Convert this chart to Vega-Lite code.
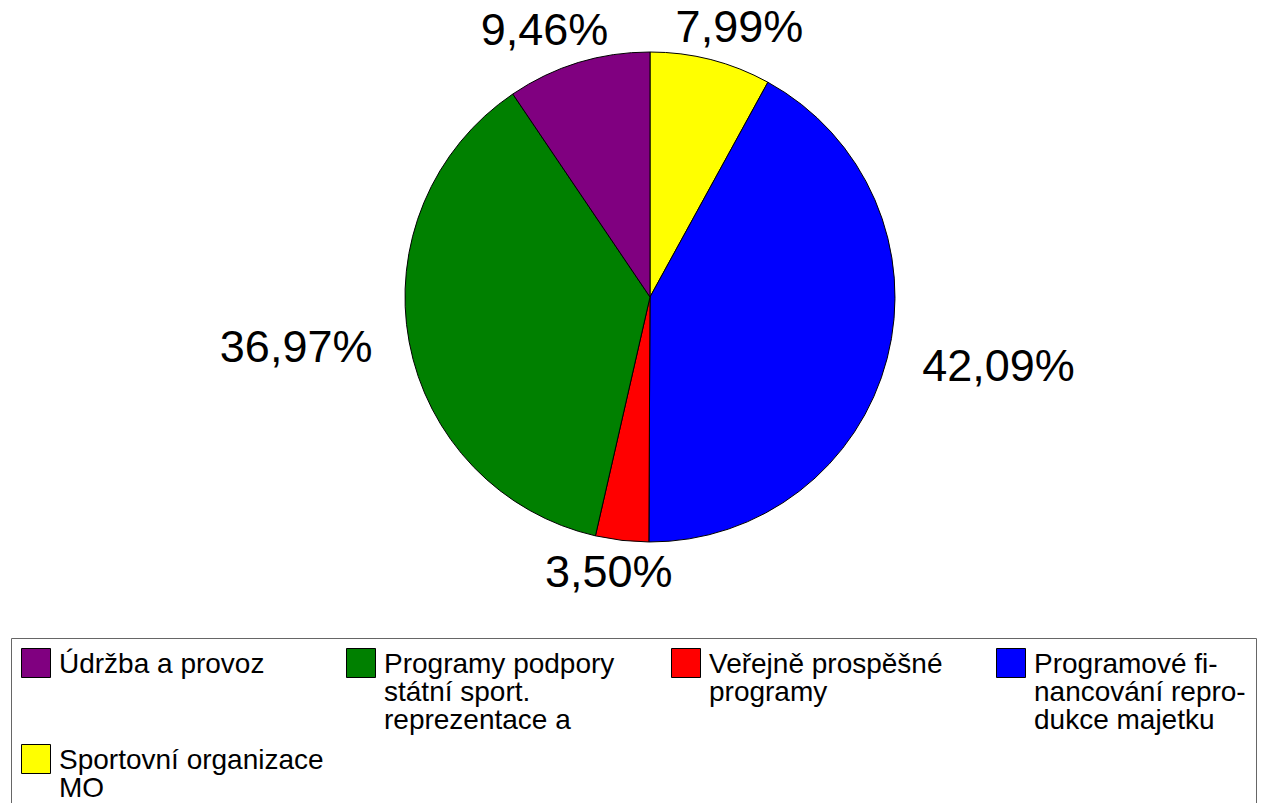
{
  "$schema": "https://vega.github.io/schema/vega-lite/v6.json",
  "width": 1234,
  "height": 594,
  "autosize": {"type": "none"},
  "padding": {"left": 33, "top": 0, "right": 0, "bottom": 209},
  "background": "white",
  "config": {
    "view": {"stroke": null},
    "font": "Liberation Sans",
    "locale": {
      "number": {"decimal": ",", "thousands": "\u00a0", "grouping": [3], "currency": ["", "\u00a0Kč"]}
    }
  },
  "data": {
    "values": [
      {"kategorie": "Sportovní organizace|MO", "podil": 0.0799, "poradi": 1},
      {"kategorie": "Programové fi-|nancování repro-|dukce majetku", "podil": 0.4209, "poradi": 2},
      {"kategorie": "Veřejně prospěšné|programy", "podil": 0.0350, "poradi": 3},
      {"kategorie": "Programy podpory|státní sport.|reprezentace a", "podil": 0.3697, "poradi": 4},
      {"kategorie": "Údržba a provoz", "podil": 0.0946, "poradi": 5}
    ]
  },
  "encoding": {
    "theta": {"field": "podil", "type": "quantitative", "stack": true},
    "order": {"field": "poradi", "type": "quantitative"}
  },
  "layer": [
    {
      "mark": {"type": "arc", "radius": 245, "stroke": "black", "strokeWidth": 1, "opacity": 1},
      "encoding": {
        "color": {
          "field": "kategorie",
          "type": "nominal",
          "scale": {
            "domain": [
              "Údržba a provoz",
              "Programy podpory|státní sport.|reprezentace a",
              "Veřejně prospěšné|programy",
              "Programové fi-|nancování repro-|dukce majetku",
              "Sportovní organizace|MO"
            ],
            "range": ["#800080", "#008000", "#FF0000", "#0000FF", "#FFFF00"]
          },
          "legend": {
            "title": null,
            "orient": "none",
            "direction": "horizontal",
            "legendX": -22,
            "legendY": 638,
            "columns": 4,
            "gridAlign": "all",
            "symbolType": "square",
            "symbolSize": 841,
            "symbolStrokeColor": "black",
            "symbolStrokeWidth": 1,
            "symbolOpacity": 1,
            "labelFont": "Liberation Sans",
            "labelFontSize": 28,
            "labelColor": "black",
            "labelLimit": 500,
            "labelOffset": 8,
            "labelBaseline": "top",
            "labelExpr": "slice(split(datum.label + '||', '|'), 0, 3)",
            "columnPadding": 20,
            "rowPadding": 7,
            "strokeColor": "#666666",
            "fillColor": "white",
            "padding": 10,
            "encode": {"labels": {"update": {"lineHeight": {"value": 28}, "dy": {"value": -12}}}}
          }
        }
      }
    },
    {
      "mark": {
        "type": "text",
        "radius": 0,
        "dx": {"expr": "360*sin(scale('theta', 0.5*datum.podil_start + 0.5*datum.podil_end))"},
        "dy": {"expr": "-278*cos(scale('theta', 0.5*datum.podil_start + 0.5*datum.podil_end))"},
        "font": "Liberation Sans",
        "fontSize": 45,
        "fill": "black",
        "align": "center",
        "baseline": "middle"
      },
      "encoding": {
        "text": {"field": "podil", "type": "quantitative", "format": ".2%"}
      }
    }
  ]
}
